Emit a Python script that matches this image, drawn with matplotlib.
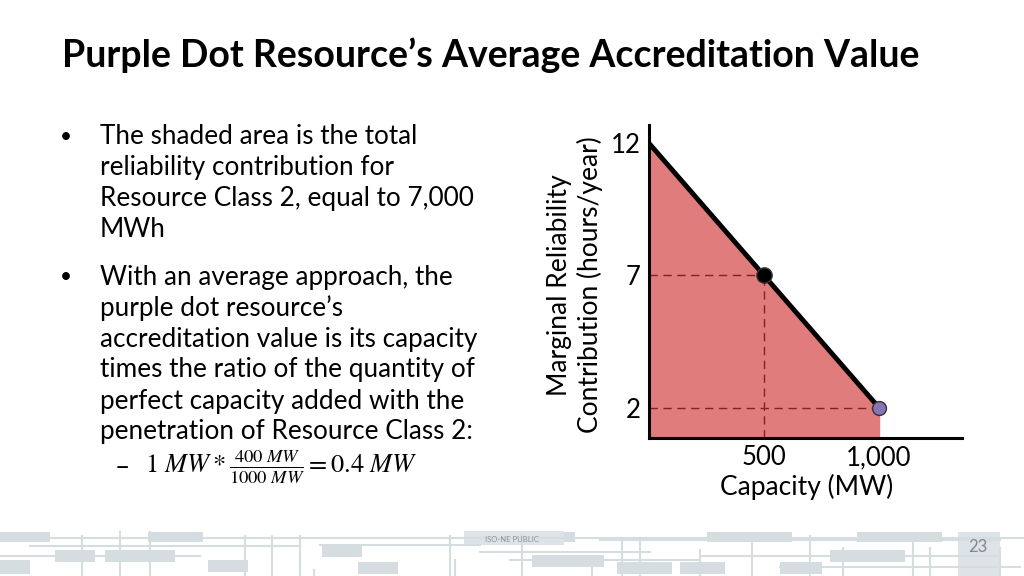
import matplotlib.pyplot as plt
from matplotlib.patches import Rectangle, Polygon

plt.rcParams['font.family'] = ['Lato', 'DejaVu Sans']
plt.rcParams['mathtext.fontset'] = 'stix'

# data
capacity = [0, 500, 1000]
mrc = [12, 7, 2]
x_ticks = [500, 1000]
x_tick_labels = ["500", "1,000"]
y_ticks = [2, 7, 12]
y_tick_labels = ["2", "7", "12"]
marker_points = [(500, 7, "black"), (1000, 2, "#8575B8")]

title = "Purple Dot Resource\u2019s Average Accreditation Value"
bullet1 = ["The shaded area is the total", "reliability contribution for",
           "Resource Class 2, equal to 7,000", "MWh"]
bullet2 = ["With an average approach, the", "purple dot resource\u2019s",
           "accreditation value is its capacity", "times the ratio of the quantity of",
           "perfect capacity added with the", "penetration of Resource Class 2:"]

W, H = 1024, 576
fig = plt.figure(figsize=(10.24, 5.76), dpi=100)
fig.patch.set_facecolor("white")

# bottom decoration (light circuit pattern)
deco = fig.add_axes([0, 0, 1, 1], zorder=0)
deco.set_xlim(0, W)
deco.set_ylim(H, 0)
deco.axis("off")
gray = "#D6DDE1"
boxes = [(0, 532, 50, 10), (55, 550, 40, 12), (105, 550, 70, 12), (148, 532, 55, 10),
         (208, 560, 40, 12), (322, 545, 40, 12), (358, 562, 40, 12), (470, 532, 105, 10),
         (532, 555, 72, 12), (617, 562, 55, 12), (707, 532, 85, 10), (830, 550, 75, 12),
         (857, 532, 85, 10), (780, 562, 42, 12), (680, 562, 45, 12), (0, 560, 30, 14)]
for bx, by, bw, bh in boxes:
    deco.add_patch(Rectangle((bx, by), bw, bh, color=gray, lw=0))
hlines = [(0, 1024, 538), (30, 300, 546), (320, 480, 545), (480, 650, 552), (510, 700, 560),
          (700, 1000, 556), (780, 1020, 567), (0, 200, 556), (600, 1000, 540)]
for x0, x1, yy in hlines:
    deco.plot([x0, x1], [yy, yy], color=gray, lw=1.5)
vlines = [(82, 536, 576), (120, 532, 576), (150, 532, 576), (245, 536, 576), (272, 536, 576),
          (300, 536, 576), (314, 570, 576), (450, 536, 576), (455, 560, 576), (522, 536, 576),
          (592, 560, 576), (622, 540, 576), (640, 540, 576), (700, 550, 576), (752, 540, 576),
          (810, 536, 576), (843, 548, 576), (913, 540, 576), (930, 548, 576), (1000, 548, 576)]
for xx, y0, y1 in vlines:
    deco.plot([xx, xx], [y0, y1], color=gray, lw=1.5)
deco.add_patch(Rectangle((464, 531), 100, 14, color="#DDE3E6", lw=0))
deco.text(512, 539, "ISO-NE PUBLIC", fontsize=5.5, color="#8A9499", ha="center", va="center")
deco.add_patch(Rectangle((958, 532), 42, 44, color="#DDE3E6", lw=0))
deco.text(978, 547, "23", fontsize=12, color="#7F8A90", ha="center", va="center")

# title
fig.text(62 / W, 1 - 55 / H, title, fontsize=27, fontweight="bold", va="center", ha="left",
         color="black")

# bullets
fs = 18.8
y = 137
fig.text(60 / W, 1 - y / H, "\u2022", fontsize=15, va="center")
for line in bullet1:
    fig.text(100 / W, 1 - y / H, line, fontsize=fs, va="center")
    y += 30.7
y = 277
fig.text(60 / W, 1 - y / H, "\u2022", fontsize=15, va="center")
for line in bullet2:
    fig.text(100 / W, 1 - y / H, line, fontsize=fs, va="center")
    y += 31
fig.text(115 / W, 1 - 467 / H, "\u2013", fontsize=fs, va="center")
fig.text(145 / W, 1 - 467 / H,
         r"$1\ MW * \frac{400\ MW}{1000\ MW} = 0.4\ MW$", fontsize=19, va="center")

# chart
ax = fig.add_axes([649 / W, 1 - 438 / H, (962 - 649) / W, (438 - 125) / H], zorder=2)
ax.set_xlim(0, 1361)
ax.set_ylim(0.85, 12.69)
ybot = 0.85
poly = list(zip(capacity, mrc)) + [(capacity[-1], ybot), (capacity[0], ybot)]
ax.add_patch(Polygon(poly, closed=True, facecolor="#E07C7C", edgecolor="none", zorder=1))
ax.plot([capacity[-1], capacity[-1]], [ybot, mrc[-1]], color="#E07C7C", lw=1, zorder=1)

dash_col = "#8B1F1F"
for cx, cy in zip(capacity[1:], mrc[1:]):
    ax.plot([0, cx], [cy, cy], color=dash_col, lw=1, ls=(0, (6, 4)), zorder=2)
ax.plot([capacity[1], capacity[1]], [ybot, mrc[1]], color=dash_col, lw=1, ls=(0, (6, 4)), zorder=2)

ax.plot(capacity, mrc, color="black", lw=3.5, zorder=3, solid_capstyle="butt")
for px, py, col in marker_points:
    ax.plot(px, py, "o", ms=11 if col == "black" else 10, color=col,
            markeredgecolor="#333333", markeredgewidth=1, zorder=4)

ax.set_xticks(x_ticks)
ax.set_xticklabels(x_tick_labels, fontsize=18.5)
ax.set_yticks(y_ticks)
ax.set_yticklabels(y_tick_labels, fontsize=18.5)
ax.tick_params(axis="y", length=0, pad=6)
ax.tick_params(axis="x", length=0, pad=5)
for side in ["top", "right"]:
    ax.spines[side].set_visible(False)
for side in ["left", "bottom"]:
    ax.spines[side].set_linewidth(2.2)
    ax.spines[side].set_color("black")
ax.set_facecolor("none")
ax.set_xlabel("Capacity (MW)", fontsize=19)
ax.xaxis.set_label_coords((807 - 649) / (962 - 649), -(487 - 438) / (438 - 125), transform=ax.transAxes)
ax.xaxis.label.set_va("center")
ax.set_ylabel("Marginal Reliability\nContribution (hours/year)", fontsize=19, linespacing=1.2)
ax.yaxis.set_label_coords(-(649 - 575) / (962 - 649), (438 - 285) / (438 - 125), transform=ax.transAxes)
ax.yaxis.label.set_va("center")

fig.savefig("out.png", dpi=100)
